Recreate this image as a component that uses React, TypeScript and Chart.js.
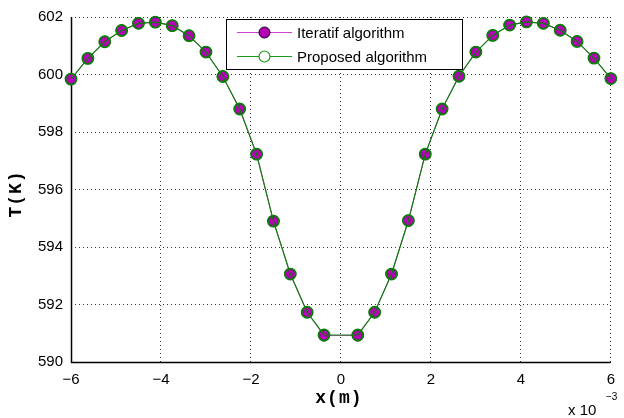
import React, { useEffect, useRef } from "react";
import { Chart, registerables } from "chart.js";

Chart.register(...registerables);

// x positions in units of 10^-3 m
const xValues = [
  -6, -5.625, -5.25, -4.875, -4.5, -4.125, -3.75, -3.375, -3, -2.625, -2.25, -1.875, -1.5, -1.125, -0.75, -0.375,
  0.375, 0.75, 1.125, 1.5, 1.875, 2.25, 2.625, 3, 3.375, 3.75, 4.125, 4.5, 4.875, 5.25, 5.625, 6,
];
const iteratifT = [
  599.84, 600.56, 601.14, 601.53, 601.78, 601.82, 601.7, 601.35, 600.78, 599.93, 598.8, 597.23, 594.9, 593.06, 591.73, 590.92,
  590.92, 591.73, 593.06, 594.92, 597.23, 598.8, 599.94, 600.78, 601.36, 601.72, 601.83, 601.78, 601.54, 601.15, 600.57, 599.86,
];
const proposedT = [
  599.84, 600.56, 601.14, 601.53, 601.78, 601.82, 601.7, 601.35, 600.78, 599.93, 598.8, 597.23, 594.9, 593.06, 591.73, 590.94,
  590.94, 591.73, 593.06, 594.92, 597.23, 598.8, 599.94, 600.78, 601.36, 601.72, 601.83, 601.78, 601.54, 601.15, 600.57, 599.86,
];
const seriesNames = ["Iteratif algorithm", "Proposed algorithm"];
const xTicks = [-6, -4, -2, 0, 2, 4, 6];
const yTicks = [590, 592, 594, 596, 598, 600, 602];
const xTitle = "x(m)";
const yTitle = "T(K)";

const MAGENTA_LINE = "#cc44cc";
const MAGENTA_FILL = "#b400b4";
const GREEN = "#0a7f0a";
const FONT = "'Liberation Sans', Arial, sans-serif";

const fmt = (v: number) => (v < 0 ? "\u2212" + Math.abs(v) : String(v));

const decorPlugin = {
  id: "decor",
  beforeDatasetsDraw(chart: any) {
    const ctx = chart.ctx as CanvasRenderingContext2D;
    const a = chart.chartArea;
    ctx.save();
    ctx.setLineDash([]);
    ctx.strokeStyle = "#000";
    ctx.lineWidth = 1.5;
    ctx.beginPath();
    ctx.moveTo(Math.round(a.left) + 0.5, a.top);
    ctx.lineTo(Math.round(a.left) + 0.5, Math.round(a.bottom) + 0.5);
    ctx.lineTo(a.right, Math.round(a.bottom) + 0.5);
    ctx.stroke();
    ctx.restore();
  },
  afterDraw(chart: any) {
    const ctx = chart.ctx as CanvasRenderingContext2D;
    const area = chart.chartArea;
    ctx.save();
    ctx.setLineDash([]);
    // Legend box
    const bx = 226.5, by = 19.5, bw = 236, bh = 50;
    ctx.fillStyle = "#fff";
    ctx.fillRect(bx, by, bw, bh);
    ctx.strokeStyle = "#000";
    ctx.lineWidth = 1;
    ctx.strokeRect(bx, by, bw, bh);
    const rows = [32.5, 56.5];
    const lx0 = 237, lx1 = 292, mx = 264.5;
    // row 1
    ctx.strokeStyle = MAGENTA_LINE;
    ctx.lineWidth = 1;
    ctx.beginPath();
    ctx.moveTo(lx0, rows[0]);
    ctx.lineTo(lx1, rows[0]);
    ctx.stroke();
    ctx.beginPath();
    ctx.arc(mx, rows[0], 5.5, 0, Math.PI * 2);
    ctx.fillStyle = MAGENTA_FILL;
    ctx.fill();
    ctx.strokeStyle = "#000";
    ctx.lineWidth = 1;
    ctx.stroke();
    // row 2
    ctx.strokeStyle = "#1a9a1a";
    ctx.beginPath();
    ctx.moveTo(lx0, rows[1]);
    ctx.lineTo(lx1, rows[1]);
    ctx.stroke();
    ctx.beginPath();
    ctx.arc(mx, rows[1], 5.5, 0, Math.PI * 2);
    ctx.fillStyle = "#fff";
    ctx.fill();
    ctx.strokeStyle = "#1a9a1a";
    ctx.lineWidth = 1.2;
    ctx.stroke();
    ctx.fillStyle = "#000";
    ctx.font = `15px ${FONT}`;
    ctx.textAlign = "left";
    ctx.textBaseline = "middle";
    ctx.fillText(seriesNames[0], 297, rows[0] + 1);
    ctx.fillText(seriesNames[1], 297, rows[1] + 1);

    // Axis titles
    ctx.font = `bold 18px 'Liberation Mono', 'Courier New', monospace`;
    (ctx as any).letterSpacing = "1px";
    ctx.textAlign = "center";
    ctx.textBaseline = "middle";
    ctx.fillText(xTitle, (area.left + area.right) / 2 - 2, 398);
    ctx.save();
    ctx.translate(16, 194);
    ctx.rotate(-Math.PI / 2);
    ctx.fillText(yTitle, 0, 0);
    ctx.restore();
    (ctx as any).letterSpacing = "0px";

    // exponent
    ctx.font = `15px ${FONT}`;
    ctx.textAlign = "left";
    ctx.textBaseline = "alphabetic";
    ctx.fillText("x 10", 568, 415);
    ctx.font = `10px ${FONT}`;
    ctx.fillText("\u22123", 606, 400);
    ctx.restore();
  },
};

export default function App() {
  const ref = useRef<HTMLCanvasElement | null>(null);
  useEffect(() => {
    document.body.style.margin = "0";
    const canvas = ref.current!;
    const chart = new Chart(canvas, {
      type: "line",
      data: {
        datasets: [
          {
            label: seriesNames[0],
            data: xValues.map((x, i) => ({ x, y: iteratifT[i] })),
            borderColor: MAGENTA_LINE,
            borderWidth: 1,
            pointRadius: 5.5,
            pointBackgroundColor: MAGENTA_FILL,
            pointBorderColor: "#000",
            pointBorderWidth: 1,
            tension: 0,
            order: 1,
            clip: false,
          },
          {
            label: seriesNames[1],
            data: xValues.map((x, i) => ({ x, y: proposedT[i] })),
            borderColor: GREEN,
            borderWidth: 1.2,
            pointRadius: 5.5,
            pointBackgroundColor: "rgba(0,0,0,0)",
            pointBorderColor: GREEN,
            pointBorderWidth: 1.8,
            tension: 0,
            order: 0,
            clip: false,
          },
        ],
      },
      options: {
        responsive: false,
        animation: false,
        events: [],
        layout: { padding: { top: 15, right: 5, left: 0, bottom: 0 } },
        plugins: { legend: { display: false }, tooltip: { enabled: false } },
        scales: {
          x: {
            type: "linear",
            min: -6,
            max: 6,
            afterBuildTicks: (s: any) => {
              s.ticks = xTicks.map((v) => ({ value: v }));
            },
            afterFit: (s: any) => {
              s.height = 56;
            },
            ticks: {
              color: "#000",
              font: { family: FONT, size: 15 },
              padding: 9,
              maxRotation: 0,
              autoSkip: false,
              callback: (v: any) => fmt(Number(v)),
            },
            grid: { color: "#333", drawTicks: false, lineWidth: 1 },
            border: { display: false, dash: [1, 3] },
          },
          y: {
            type: "linear",
            min: 590,
            max: 602,
            afterBuildTicks: (s: any) => {
              s.ticks = yTicks.map((v) => ({ value: v }));
            },
            afterFit: (s: any) => {
              s.width = 71;
            },
            ticks: {
              color: "#000",
              font: { family: FONT, size: 15 },
              padding: 8,
              autoSkip: false,
              callback: (v: any) => fmt(Number(v)),
            },
            grid: { color: "#333", drawTicks: false, lineWidth: 1 },
            border: { display: false, dash: [1, 3] },
          },
        },
      },
      plugins: [decorPlugin],
    } as any);
    return () => chart.destroy();
  }, []);
  return (
    <div style={{ width: 624, height: 418, background: "#fff" }}>
      <canvas ref={ref} width={624} height={418} style={{ display: "block" }} />
    </div>
  );
}
